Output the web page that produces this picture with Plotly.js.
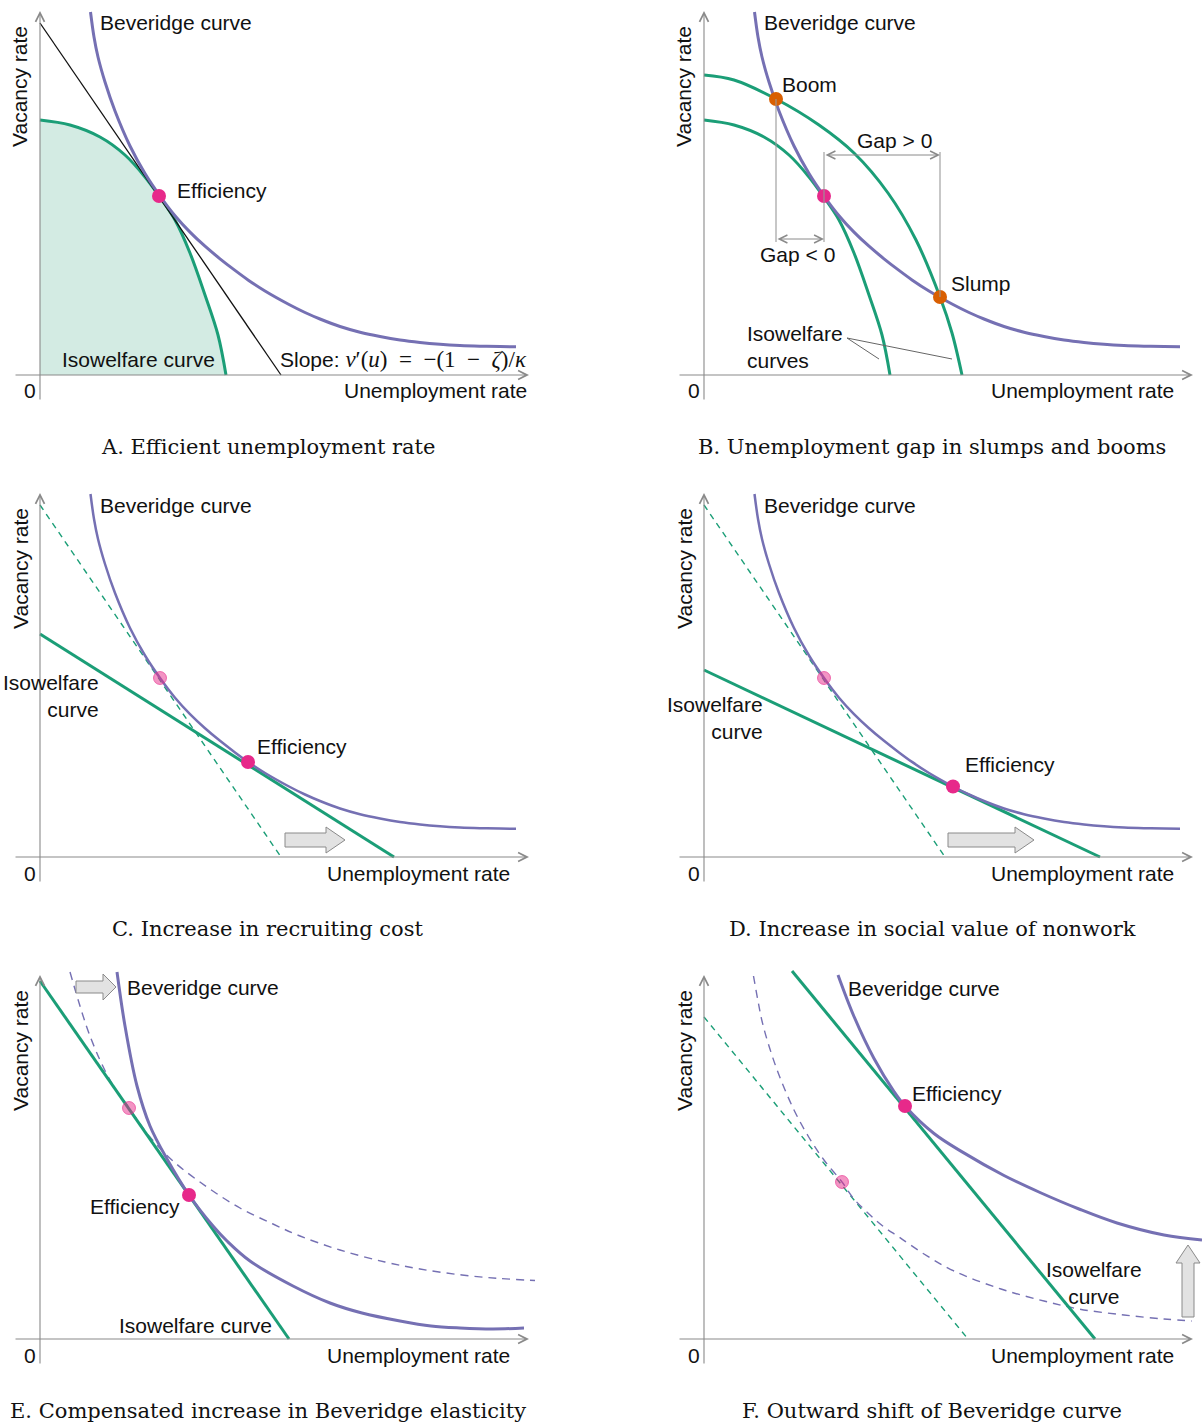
<!DOCTYPE html>
<html><head><meta charset="utf-8">
<script src="https://cdn.plot.ly/plotly-3.0.1.min.js"></script>
<style>html,body{margin:0;padding:0;background:#fff}#chart{width:1202px;height:1426px}</style>
</head><body><div id="chart"></div>
<script>
// ---------- data (unemployment u, vacancy v, in chart units) ----------
// Beveridge curve used in panels A-D
const bevU = [50.5, 54, 58, 65, 75, 90, 105, 120, 135, 150, 165, 180, 195, 208, 225, 249, 265, 280, 300, 320, 340, 360, 380, 400, 420, 440, 460, 476];
const bevV = [363, 338, 318, 293, 264, 229, 201.5, 179, 159.3, 142.9, 128.8, 116.2, 104.6, 95.1, 84, 70.5, 62.5, 56, 48.5, 42.8, 38.5, 35, 32.5, 30.7, 29.5, 28.8, 28.4, 28.2];
// Isowelfare curves (panels A, B)
const isoLowU = [0, 30, 60, 85, 105, 119, 135, 150, 165, 178, 186];
const isoLowV = [255, 250, 238, 220, 198, 179, 155, 122, 80, 40, 0];
const isoHighU = [0, 30, 72, 115, 150, 184, 212, 236, 248, 258];
const isoHighV = [300, 295, 276, 250, 222, 182, 135, 78, 42, 0];
// Straight isowelfare lines
const tangentAU = [0, 241], tangentAV = [352, 0];
const isoCU = [0, 354], isoCV = [223, 0];
const isoDU = [0, 396], isoDV = [187, 0];
const isoEU = [0, 249], isoEV = [358, 0];
const isoFU = [88, 391], isoFV = [368, 0];
const isoFoldU = [0, 264], isoFoldV = [322, 0];
// Panel E Beveridge curves
const bevEoldU = [30, 50, 70, 89, 110, 133, 167, 200, 233, 260, 300, 345, 380, 422, 460, 495];
const bevEoldV = [367, 303, 259, 231, 202, 178, 152, 131, 115, 103, 89, 77, 70, 64, 60.5, 58.5];
const bevEnewU = [77, 85, 97, 110, 127, 149, 173, 187, 210, 253, 290, 322, 360, 391, 420, 453, 484];
const bevEnewV = [367, 313, 253, 213, 180, 144, 113, 98, 78, 53, 36, 26, 18, 13, 11, 10, 11];
// Panel F Beveridge curves
const bevFoldU = [49.5, 54, 58, 65, 75, 90, 105, 120, 138, 150, 165, 180, 195, 220, 250, 297, 340, 375, 420, 460, 488];
const bevFoldV = [363, 338, 318, 293, 264, 229, 201.5, 179, 157, 140, 125, 112, 102, 85, 68, 50, 38, 30, 24, 20, 18];
const bevFnewU = [134, 150, 170, 190, 201, 230, 259, 300, 336, 375, 413, 460, 498];
const bevFnewV = [364, 322.5, 280.5, 247.5, 233, 205.5, 186.6, 163.5, 146.5, 130, 116, 104, 99];
// Equilibrium points, panels A-F
const effU = [119, 120, 208, 249, 149, 201];
const effV = [179, 179, 95, 70.5, 144, 233];
const oldEffU = [null, null, 120, 120, 89, 138];
const oldEffV = [null, null, 179, 179, 231, 157];
const boomU = [72], boomV = [276];
const slumpU = [236], slumpV = [78];
const gapLowV = 136, gapHighV = 220;

const captions = ['A. Efficient unemployment rate', 'B. Unemployment gap in slumps and booms',
  'C. Increase in recruiting cost', 'D. Increase in social value of nonwork',
  'E. Compensated increase in Beveridge elasticity', 'F. Outward shift of Beveridge curve'];

// ---------- styling ----------
const PURPLE = '#7570b3', GREEN = '#1b9e77', ORANGE = '#d95f02', PINK = '#e7298a';
const FADED = 'rgba(231,41,138,0.5)';
const AXC = '#8a8a8a';
const W = 1202, H = 1426;

function xa(p) { return p === 0 ? 'x' : 'x' + (p + 1); }
function ya(p) { return p === 0 ? 'y' : 'y' + (p + 1); }
function origin(p) { const c = p % 2, r = Math.floor(p / 2); return [40 + 664 * c, 375 + 482 * r]; }

const layout = {
  width: W, height: H, margin: {l: 0, r: 0, t: 0, b: 0},
  paper_bgcolor: '#fff', plot_bgcolor: 'rgba(0,0,0,0)', showlegend: false,
  font: {family: 'Liberation Sans, Arial, sans-serif', size: 21, color: '#111'},
  annotations: [], shapes: []
};
for (let p = 0; p < 6; p++) {
  const [ox, oy] = origin(p);
  const sx = p === 0 ? '' : String(p + 1);
  layout['xaxis' + sx] = {domain: [(ox - 40) / W, Math.min(1, (ox - 40 + 538) / W)], range: [-40, 498],
    visible: false, fixedrange: true, anchor: 'y' + sx};
  layout['yaxis' + sx] = {domain: [1 - (oy + 30) / H, 1 - (oy - 370) / H], range: [-30, 370],
    visible: false, fixedrange: true, anchor: 'x' + sx};
}

const traces = [];
function curve(p, u, v, color, width, dash, spline) {
  traces.push({type: 'scatter', mode: 'lines', x: u, y: v, xaxis: xa(p), yaxis: ya(p),
    line: {color: color, width: width, dash: dash || 'solid', shape: spline ? 'spline' : 'linear', smoothing: 1},
    hoverinfo: 'skip'});
}
function dots(p, u, v, color, size, edge) {
  traces.push({type: 'scatter', mode: 'markers', x: u, y: v, xaxis: xa(p), yaxis: ya(p),
    marker: {color: color, size: size || 14, line: {width: edge ? 1 : 0, color: edge || color}},
    hoverinfo: 'skip', cliponaxis: false});
}
function txt(p, x, y, text, xanchor, extra) {
  layout.annotations.push(Object.assign({xref: xa(p), yref: ya(p), x: x, y: y, text: text,
    showarrow: false, xanchor: xanchor || 'left', yanchor: 'middle'}, extra || {}));
}
function arrow(p, x0, y0, x1, y1, both, color, width) {
  layout.annotations.push({xref: xa(p), yref: ya(p), axref: xa(p), ayref: ya(p),
    x: x1, y: y1, ax: x0, ay: y0, text: '', showarrow: true,
    arrowhead: 5, startarrowhead: 5, arrowside: both ? 'end+start' : 'end',
    arrowsize: 1.6, startarrowsize: 1.6, arrowwidth: width || 1.1, arrowcolor: color || AXC, standoff: 0, startstandoff: 0});
}
function seg(p, x0, y0, x1, y1, color, width) {
  layout.shapes.push({type: 'line', xref: xa(p), yref: ya(p), x0: x0, y0: y0, x1: x1, y1: y1,
    line: {color: color || '#999', width: width || 1.1}});
}
function hArrow(p, x0, x1, cy, bh, hh, hl) {
  layout.shapes.push({type: 'path', xref: xa(p), yref: ya(p), fillcolor: '#e2e2e2', line: {color: '#8a8a8a', width: 1},
    path: `M${x0},${cy - bh} L${x1 - hl},${cy - bh} L${x1 - hl},${cy - hh} L${x1},${cy} L${x1 - hl},${cy + hh} L${x1 - hl},${cy + bh} L${x0},${cy + bh} Z`});
}
function vArrow(p, cx, y0, y1, bw, hw, hl) {
  layout.shapes.push({type: 'path', xref: xa(p), yref: ya(p), fillcolor: '#e2e2e2', line: {color: '#8a8a8a', width: 1},
    path: `M${cx - bw},${y0} L${cx - bw},${y1 - hl} L${cx - hw},${y1 - hl} L${cx},${y1} L${cx + hw},${y1 - hl} L${cx + bw},${y1 - hl} L${cx + bw},${y0} Z`});
}

// common axes, axis labels, captions
for (let p = 0; p < 6; p++) {
  const [ox, oy] = origin(p);
  arrow(p, -26, 0, 489, 0, false);
  arrow(p, 0, -26, 0, 364, false);
  txt(p, -20, 288, 'Vacancy rate', 'center', {textangle: -90});
  txt(p, -10, -16, '0', 'center');
  txt(p, (p === 0 ? 489 : 472), -16, 'Unemployment rate', 'right');
  layout.annotations.push({xref: 'paper', yref: 'paper', x: (ox + 228) / W, y: 1 - (oy + 72) / H,
    text: captions[p], showarrow: false, xanchor: 'center', yanchor: 'middle',
    font: {family: 'DejaVu Serif, serif', size: 21, color: '#111'}});
}

// Panel A
traces.push({type: 'scatter', mode: 'lines', x: isoLowU, y: isoLowV, xaxis: 'x', yaxis: 'y', fill: 'tozeroy',
  fillcolor: '#d3ebe3', line: {color: GREEN, width: 3, shape: 'spline', smoothing: 1}, hoverinfo: 'skip'});
curve(0, tangentAU, tangentAV, '#111', 1.3);
curve(0, bevU, bevV, PURPLE, 3, null, true);
dots(0, [effU[0]], [effV[0]], PINK);
txt(0, 58, 352, 'Beveridge curve');
txt(0, 135, 184, 'Efficiency');
txt(0, 20, 15, 'Isowelfare curve');
txt(0, 238, 15, 'Slope: <span style="font-family:Liberation Serif;font-size:23px"><i>v</i>′(<i>u</i>)  =  −(1  −  <i>ζ</i>)/<i>κ</i></span>');

// Panel B
curve(1, isoLowU, isoLowV, GREEN, 3, null, true);
curve(1, isoHighU, isoHighV, GREEN, 3, null, true);
curve(1, bevU, bevV, PURPLE, 3, null, true);
seg(1, boomU[0], boomV[0], boomU[0], gapLowV - 3);
seg(1, effU[1], gapHighV + 3, effU[1], gapLowV - 3);
seg(1, slumpU[0], slumpV[0], slumpU[0], gapHighV + 3);
arrow(1, boomU[0], gapLowV, effU[1], gapLowV, true, '#8a8a8a', 1);
arrow(1, effU[1], gapHighV, slumpU[0], gapHighV, true, '#8a8a8a', 1);
seg(1, 143, 37, 175, 16, '#666', 1);
seg(1, 143, 37, 248, 16, '#666', 1);
dots(1, [effU[1]], [effV[1]], PINK);
dots(1, boomU.concat(slumpU), boomV.concat(slumpV), ORANGE);
txt(1, 58, 352, 'Beveridge curve');
txt(1, 76, 290, 'Boom');
txt(1, 151, 234, 'Gap &gt; 0');
txt(1, 54, 120, 'Gap &lt; 0');
txt(1, 245, 91, 'Slump');
txt(1, 41, 28, 'Isowelfare<br>curves', 'left', {align: 'left'});

// Panel C
curve(2, tangentAU, tangentAV, GREEN, 1.4, '6px,5px');
curve(2, isoCU, isoCV, GREEN, 3);
curve(2, bevU, bevV, PURPLE, 2.5, null, true);
dots(2, [oldEffU[2]], [oldEffV[2]], FADED, 13, 'rgba(231,41,138,0.6)');
dots(2, [effU[2]], [effV[2]], PINK);
hArrow(2, 245, 305, 17, 7, 13, 19);
txt(2, 58, 351, 'Beveridge curve');
txt(2, 61, 161, 'Isowelfare<br>curve', 'right', {align: 'right'});
txt(2, 215, 111, 'Efficiency');

// Panel D
curve(3, tangentAU, tangentAV, GREEN, 1.4, '6px,5px');
curve(3, isoDU, isoDV, GREEN, 3);
curve(3, bevU, bevV, PURPLE, 2.5, null, true);
dots(3, [oldEffU[3]], [oldEffV[3]], FADED, 13, 'rgba(231,41,138,0.6)');
dots(3, [effU[3]], [effV[3]], PINK);
hArrow(3, 244, 330, 17, 7, 13, 19);
txt(3, 58, 351, 'Beveridge curve');
txt(3, 61, 139, 'Isowelfare<br>curve', 'right', {align: 'right'});
txt(3, 259, 93, 'Efficiency');

// Panel E
curve(4, bevEoldU, bevEoldV, PURPLE, 1.4, '8px,6px', true);
curve(4, isoEU, isoEV, GREEN, 3);
curve(4, bevEnewU, bevEnewV, PURPLE, 3, null, true);
dots(4, [oldEffU[4]], [oldEffV[4]], FADED, 13, 'rgba(231,41,138,0.6)');
dots(4, [effU[4]], [effV[4]], PINK);
hArrow(4, 36, 76, 352, 6, 13, 13);
txt(4, 85, 352, 'Beveridge curve');
txt(4, 142, 133, 'Efficiency', 'right');
txt(4, 77, 14, 'Isowelfare curve');

// Panel F
curve(5, isoFoldU, isoFoldV, GREEN, 1.4, '6px,5px');
curve(5, bevFoldU, bevFoldV, PURPLE, 1.4, '8px,6px', true);
curve(5, isoFU, isoFV, GREEN, 3);
curve(5, bevFnewU, bevFnewV, PURPLE, 3, null, true);
dots(5, [oldEffU[5]], [oldEffV[5]], FADED, 13, 'rgba(231,41,138,0.6)');
dots(5, [effU[5]], [effV[5]], PINK);
vArrow(5, 484, 22, 94, 6, 12, 18);
txt(5, 142, 351, 'Beveridge curve');
txt(5, 206, 246, 'Efficiency');
txt(5, 390, 56, 'Isowelfare<br>curve', 'center', {align: 'center'});

Plotly.newPlot('chart', traces, layout, {staticPlot: true, displayModeBar: false});
</script></body></html>
